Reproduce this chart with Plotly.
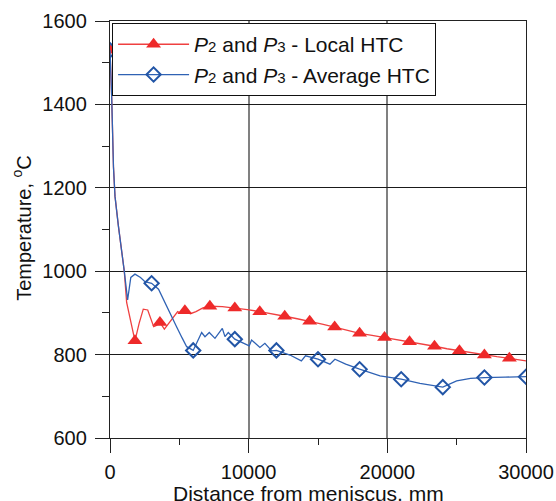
import plotly.graph_objects as go

# Local HTC: continuous temperature profile and the plotted marker points
local_x = [0, 120, 250, 360, 600, 850, 1030, 1200, 1560, 1800, 2100, 2400, 2720,
           3150, 3350, 3600, 3920, 4450, 4880, 5120, 5400, 5800, 6200, 6700, 7200,
           8100, 9000, 9900, 10800, 11700, 12600, 13500, 14400, 15300, 16200, 17100,
           18000, 18900, 19800, 20700, 21600, 22500, 23400, 24300, 25200, 26100,
           27000, 27900, 28800, 30000]
local_y = [1530, 1420, 1250, 1180, 1110, 1050, 1000, 925, 867, 833, 875, 909, 907,
           867, 870, 877, 861, 883, 903, 899, 905, 898, 903, 912, 916,
           915, 912, 908, 903, 898, 892, 886, 880, 873, 866, 859,
           851, 846, 841, 836, 831, 825, 820, 814, 809, 804,
           799, 795, 791, 785]
local_mx = [0, 1800, 3600, 5400, 7200, 9000, 10800, 12600, 14400, 16200, 18000,
            19800, 21600, 23400, 25200, 27000, 28800]
local_my = [1530, 833, 877, 905, 916, 912, 903, 892, 880, 866, 851,
            841, 831, 820, 809, 799, 791]

# Average HTC: continuous temperature profile and the plotted marker points
avg_x = [0, 120, 250, 360, 600, 850, 1030, 1270, 1500, 1800, 2200, 2520, 3000,
         3500, 3970, 4400, 4800, 5200, 5530, 6000, 6300, 6610, 6850, 7160, 7570,
         8100, 8290, 8530, 9000, 9610, 10040, 10210, 10810, 11170, 11660, 12000,
         12980, 13800, 14100, 15000, 15860, 16220, 17000, 18000, 19470, 21000,
         22350, 24000, 25000, 26000, 27000, 28500, 30000]
avg_y = [1530, 1420, 1250, 1180, 1110, 1050, 1000, 931, 985, 993, 985, 975, 971,
         957, 923, 895, 867, 840, 819, 810, 830, 853, 843, 853, 839,
         863, 843, 853, 837, 827, 821, 835, 817, 827, 809, 810,
         799, 785, 797, 789, 777, 789, 777, 765, 749, 741,
         731, 722, 737, 743, 745, 746, 747]
avg_mx = [0, 3000, 6000, 9000, 12000, 15000, 18000, 21000, 24000, 27000, 30000]
avg_my = [1530, 971, 810, 837, 810, 789, 765, 741, 722, 745, 747]

x_ticks = [0, 10000, 20000, 30000]
y_ticks = [600, 800, 1000, 1200, 1400, 1600]

FONT = "Arial, 'Liberation Sans', sans-serif"
RED_LINE = "#ef4040"
RED_MARK = "#ee2a2a"
BLUE_LINE = "#2f62b4"
BLUE_MARK = "#2255a6"


def small(d):
    return '<span style="font-size:15px">' + d + '</span>'


local_name = "<i>P</i>" + small("2") + " and <i>P</i>" + small("3") + " - Local HTC"
avg_name = "<i>P</i>" + small("2") + " and <i>P</i>" + small("3") + " - Average HTC"

red_marker = dict(symbol="triangle-up", size=13, color=RED_MARK,
                  line=dict(width=0))
blue_marker = dict(symbol="diamond-open", size=11, color=BLUE_MARK,
                   line=dict(width=2, color=BLUE_MARK))

fig = go.Figure()
fig.add_trace(go.Scatter(x=local_x, y=local_y, mode="lines",
                         line=dict(color=RED_LINE, width=1.3),
                         showlegend=False, hoverinfo="skip"))
fig.add_trace(go.Scatter(x=local_mx, y=local_my, mode="markers",
                         marker=red_marker, showlegend=False))
fig.add_trace(go.Scatter(x=avg_x, y=avg_y, mode="lines",
                         line=dict(color=BLUE_LINE, width=1.3),
                         showlegend=False, hoverinfo="skip"))
fig.add_trace(go.Scatter(x=avg_mx, y=avg_my, mode="markers",
                         marker=blue_marker, showlegend=False))

# legend entries (line + marker together)
fig.add_trace(go.Scatter(x=[None], y=[None], mode="lines+markers",
                         name=local_name, marker=red_marker,
                         line=dict(color=RED_LINE, width=1.3)))
fig.add_trace(go.Scatter(x=[None], y=[None], mode="lines+markers",
                         name=avg_name, marker=blue_marker,
                         line=dict(color=BLUE_LINE, width=1.3)))

fig.update_layout(
    width=556, height=501,
    margin=dict(l=110, r=30, t=21, b=63),
    paper_bgcolor="white", plot_bgcolor="white",
    font=dict(family=FONT, size=20, color="#111111"),
    legend=dict(x=0.005, y=0.995, xanchor="left", yanchor="top",
                bgcolor="white", bordercolor="#111111", borderwidth=1,
                font=dict(family=FONT, size=21, color="#111111"),
                itemwidth=71, tracegroupgap=0),
    xaxis=dict(range=[0, 30000], tickvals=x_ticks,
               ticktext=[str(v) for v in x_ticks], automargin=False,
               ticks="outside", ticklen=14, tickwidth=1, tickcolor="#222222",
               minor=dict(dtick=5000, ticks="outside", ticklen=6,
                          tickcolor="#222222", showgrid=False),
               showgrid=True, gridcolor="#808080", gridwidth=1.5,
               showline=True, linecolor="#222222", linewidth=1.3, mirror=True,
               zeroline=False, tickfont=dict(size=20), ticklabelstandoff=2),
    yaxis=dict(range=[600, 1600], tickvals=y_ticks,
               ticktext=[str(v) for v in y_ticks], automargin=False,
               ticks="outside", ticklen=14, tickwidth=1, tickcolor="#222222",
               minor=dict(dtick=100, ticks="outside", ticklen=7,
                          tickcolor="#222222", showgrid=False),
               showgrid=True, gridcolor="#1a1a1a", gridwidth=1.2,
               showline=True, linecolor="#222222", linewidth=1.3, mirror=True,
               zeroline=False, tickfont=dict(size=20), ticklabelstandoff=4),
    annotations=[
        dict(text="Distance from meniscus, mm", xref="paper", yref="paper",
             x=0.478, y=0, yshift=-42, xanchor="center", yanchor="top",
             showarrow=False, font=dict(size=21)),
        dict(text="Temperature, <sup>o</sup>C", xref="paper", yref="paper",
             x=0, y=0.504, xshift=-88, xanchor="center", yanchor="middle",
             textangle=-90, showarrow=False, font=dict(size=20)),
    ],
)

fig.write_html("out.html")
